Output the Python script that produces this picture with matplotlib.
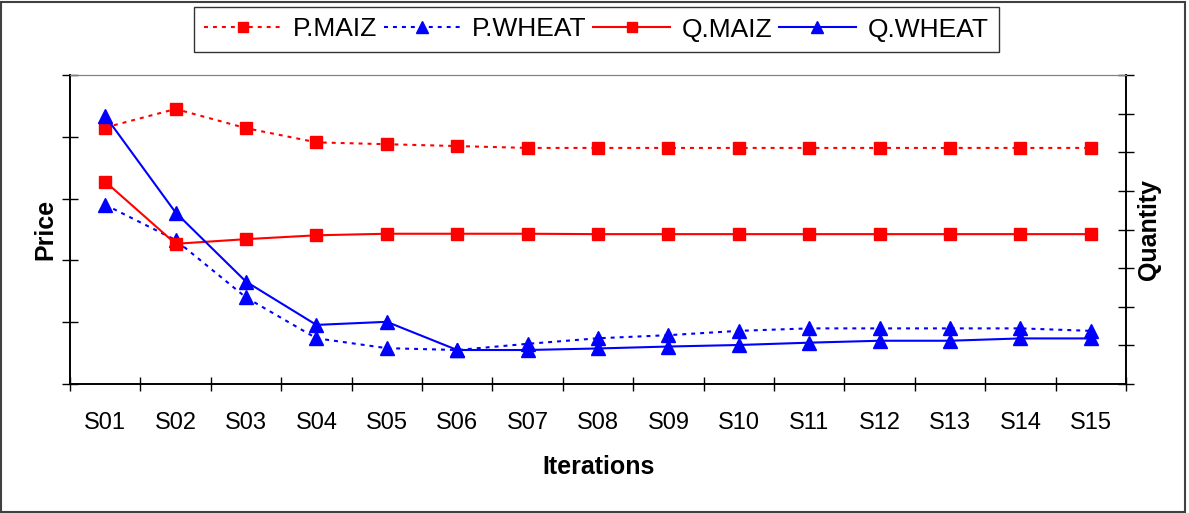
import matplotlib
matplotlib.use("Agg")
import matplotlib.pyplot as plt
from matplotlib.patches import Rectangle

plt.rcParams['font.family'] = ['Liberation Sans', 'DejaVu Sans']

iterations = ["S01", "S02", "S03", "S04", "S05", "S06", "S07", "S08",
              "S09", "S10", "S11", "S12", "S13", "S14", "S15"]
# Price axis (left), arbitrary units 0..5
p_maiz = [4.15, 4.45, 4.14, 3.91, 3.88, 3.85, 3.82, 3.82, 3.82, 3.82,
          3.82, 3.82, 3.82, 3.82, 3.82]
p_wheat = [2.90, 2.33, 1.40, 0.74, 0.58, 0.55, 0.65, 0.74, 0.79, 0.86,
           0.90, 0.90, 0.90, 0.90, 0.86]
# Quantity axis (right), arbitrary units 0..8
q_maiz = [5.24, 3.63, 3.75, 3.85, 3.89, 3.89, 3.89, 3.88, 3.88, 3.88,
          3.88, 3.88, 3.88, 3.88, 3.88]
q_wheat = [6.94, 4.44, 2.65, 1.53, 1.61, 0.88, 0.88, 0.92, 0.97, 1.01,
           1.07, 1.12, 1.12, 1.18, 1.18]

W, H = 1189, 513
fig = plt.figure(figsize=(W / 100, H / 100), dpi=100)
ax = fig.add_axes([70 / W, 1 - 384 / H, (1126 - 70) / W, (384 - 75) / H])
ax2 = ax.twinx()

x = list(range(len(iterations)))
dot = (0, (1.9, 2.4))
lw = 1.5
ms = 8.5
red, blue = "#FF0000", "#0000FF"

h1, = ax.plot(x, p_maiz, color=red, lw=lw, ls=dot, marker="s", ms=ms, label="P.MAIZ")
h2, = ax.plot(x, p_wheat, color=blue, lw=lw, ls=dot, marker="^", ms=ms + 1, label="P.WHEAT")
h3, = ax2.plot(x, q_maiz, color=red, lw=lw, ls="-", marker="s", ms=ms, label="Q.MAIZ")
h4, = ax2.plot(x, q_wheat, color=blue, lw=lw, ls="-", marker="^", ms=ms + 1, label="Q.WHEAT")

ax.set_xlim(-0.5, len(iterations) - 0.5)
ax.set_ylim(0, 5)
ax2.set_ylim(0, 8)
ax.set_yticks(range(0, 6))
ax2.set_yticks(range(0, 9))
ax.set_yticklabels([])
ax2.set_yticklabels([])
ax.tick_params(axis="y", direction="inout", length=11, width=1)
ax2.tick_params(axis="y", direction="inout", length=11, width=1)

ax.set_xticks([i - 0.5 for i in range(len(iterations) + 1)])
ax.set_xticklabels([])
ax.tick_params(axis="x", which="major", direction="inout", length=10, width=1)
ax.set_xticks(x, minor=True)
ax.set_xticklabels(iterations, minor=True, fontsize=17)
ax.tick_params(axis="x", which="minor", length=0, pad=20.5)

for a in (ax, ax2):
    a.spines["top"].set_color("#808080")
    for s in ("left", "right", "bottom"):
        a.spines[s].set_color("black")
        a.spines[s].set_linewidth(1.2)

ax.set_xlabel("Iterations", fontsize=18, fontweight="bold")
ax.xaxis.set_label_coords(0.501, -0.23)
ax.set_ylabel("Price", fontsize=18, fontweight="bold")
ax.yaxis.set_label_coords(-0.012, 0.5)
ax2.set_ylabel("Quantity", fontsize=18, fontweight="bold")
ax2.yaxis.set_label_coords(1.0105, 0.5)

leg = fig.legend(handles=[h1, h2, h3, h4], loc="center",
                 bbox_to_anchor=(596.5 / W, 1 - 29.5 / H), ncol=4,
                 fontsize=19, frameon=True, fancybox=False, shadow=False,
                 handlelength=2.9, handletextpad=0.45, columnspacing=0.25,
                 borderpad=0.4, borderaxespad=0, markerscale=0.85)
leg.get_frame().set_edgecolor("black")
leg.get_frame().set_linewidth(1.0)

fig.patches.append(Rectangle((0.001, 0.002), 0.996, 0.995, transform=fig.transFigure,
                             fill=False, edgecolor="#404040", linewidth=1.5))

fig.savefig("out.png", dpi=100)
